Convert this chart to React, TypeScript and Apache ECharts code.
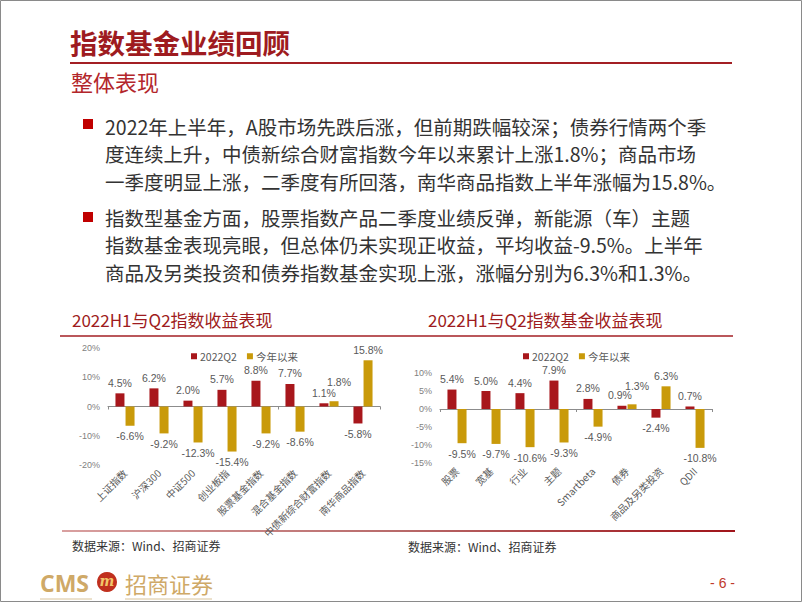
import React, { useEffect, useRef } from "react";
import * as echarts from "echarts";

const seriesNames = ["2022Q2", "今年以来"];

const leftCategories = ["上证指数", "沪深300", "中证500", "创业板指", "股票基金指数", "混合基金指数", "中债新综合财富指数", "南华商品指数"];
const leftQ2 = [4.5, 6.2, 2.0, 5.7, 8.8, 7.7, 1.1, -5.8];
const leftYTD = [-6.6, -9.2, -12.3, -15.4, -9.2, -8.6, 1.8, 15.8];

const rightCategories = ["股票", "宽基", "行业", "主题", "Smartbeta", "债券", "商品及另类投资", "QDII"];
const rightQ2 = [5.4, 5.0, 4.4, 7.9, 2.8, 0.9, -2.4, 0.7];
const rightYTD = [-9.5, -9.7, -10.6, -9.3, -4.9, 1.3, 6.3, -10.8];

const pageTitle = "指数基金业绩回顾";
const pageSubtitle = "整体表现";
const bulletLines = [
  ["2022年上半年，A股市场先跌后涨，但前期跌幅较深；债券行情两个季", "度连续上升，中债新综合财富指数今年以来累计上涨1.8%；商品市场", "一季度明显上涨，二季度有所回落，南华商品指数上半年涨幅为15.8%。"],
  ["指数型基金方面，股票指数产品二季度业绩反弹，新能源（车）主题", "指数基金表现亮眼，但总体仍未实现正收益，平均收益-9.5%。上半年", "商品及另类投资和债券指数基金实现上涨，涨幅分别为6.3%和1.3%。"],
];
const chartTitles = ["2022H1与Q2指数收益表现", "2022H1与Q2指数基金收益表现"];
const sourceText = "数据来源：Wind、招商证券";

const RED = "#A8171C";
const GOLD = "#C99A0A";
const DARKRED = "#9E1B20";
const CJK = "'Noto Sans CJK SC', 'Noto Sans', sans-serif";

// label nudges (style only) for crowded small bars: [chart][series] -> {index: offset}
const labelNudges: Record<string, Record<number, number[]>> = {
  "0-1": { 6: [5, -9] },
  "1-0": { 5: [-2, 0] },
  "1-1": { 5: [5, -8] },
};

function barData(values: number[], key: string) {
  const nudges = labelNudges[key] || {};
  return values.map((v, i) => ({
    value: v,
    label: { position: v >= 0 ? "top" : "bottom", ...(nudges[i] ? { offset: nudges[i] } : {}) },
  }));
}

export default function App() {
  const ref = useRef<HTMLDivElement>(null);
  useEffect(() => {
    document.body.style.margin = "0";
    const chart = echarts.init(ref.current!, undefined, { renderer: "svg" });

    const grids = [
      { left: 108, top: 348, width: 272, height: 117 },
      { left: 440, top: 373, width: 272, height: 90 },
    ];
    const yAxes = [
      { min: -20, max: 20, interval: 10 },
      { min: -15, max: 10, interval: 5 },
    ];
    const cats = [leftCategories, rightCategories];
    const q2 = [leftQ2, rightQ2];
    const ytd = [leftYTD, rightYTD];

    const xAxis: any[] = [];
    const yAxis: any[] = [];
    const series: any[] = [];
    const legends: any[] = [];
    [0, 1].forEach((i) => {
      xAxis.push({
        type: "category",
        gridIndex: i,
        data: cats[i],
        position: "bottom",
        axisLine: { show: false, onZero: false },
        axisTick: { show: false },
        axisLabel: { rotate: 45, interval: 0, fontSize: 10, color: "#595959", fontFamily: CJK, margin: 6 },
      });
      xAxis.push({
        type: "category",
        gridIndex: i,
        data: cats[i],
        position: "top",
        axisLine: { show: true, onZero: true, lineStyle: { color: "#8c8c8c", width: 1 } },
        axisTick: { show: true, inside: true, length: 3, lineStyle: { color: "#8c8c8c" } },
        axisLabel: { show: false },
      });
      yAxis.push({
        type: "value",
        gridIndex: i,
        ...yAxes[i],
        axisLine: { show: false },
        axisTick: { show: false },
        splitLine: { show: false },
        axisLabel: { formatter: "{value}%", fontSize: 9, color: "#7f7f7f", fontFamily: "'Liberation Sans', sans-serif", margin: 8 },
      });
      const labelCfg = {
        show: true,
        formatter: (p: any) => Number(p.value).toFixed(1) + "%",
        fontSize: 10.5,
        color: "#595959",
        distance: 5,
        fontFamily: "'Liberation Sans', sans-serif",
      };
      series.push({
        name: seriesNames[0],
        type: "bar",
        xAxisIndex: i * 2,
        yAxisIndex: i,
        data: barData(q2[i], i + "-0"),
        barWidth: 9,
        barGap: "12%",
        itemStyle: { color: RED },
        label: labelCfg,
      });
      series.push({
        name: seriesNames[1],
        type: "bar",
        xAxisIndex: i * 2,
        yAxisIndex: i,
        data: barData(ytd[i], i + "-1"),
        barWidth: 9,
        barGap: "12%",
        itemStyle: { color: GOLD },
        label: labelCfg,
      });
      legends.push({
        data: seriesNames,
        left: i === 0 ? 186 : 518,
        top: 346,
        itemWidth: 6,
        itemHeight: 6,
        itemGap: 10,
        icon: "rect",
        textStyle: { fontSize: 10.5, color: "#595959", fontFamily: CJK, padding: [0, 0, 0, -2] },
      });
    });

    const graphic: any[] = [
      { type: "rect", shape: { x: 0.5, y: 0.5, width: 801, height: 601 }, style: { fill: "none", stroke: "#8a8a8a", lineWidth: 1 } },
      { type: "text", x: 70, y: 42, style: { text: pageTitle, fill: DARKRED, fontSize: 27.5, fontWeight: "bold", fontFamily: CJK, verticalAlign: "middle" } },
      { type: "line", shape: { x1: 70, y1: 63, x2: 732, y2: 63 }, style: { stroke: "#A31F24", lineWidth: 2 } },
      { type: "text", x: 71, y: 81, style: { text: pageSubtitle, fill: "#B3262B", fontSize: 22, fontFamily: CJK, verticalAlign: "middle" } },
    ];
    const lineYs = [[126, 153, 181], [217, 244, 272]];
    const squareYs = [119, 212];
    bulletLines.forEach((lines, b) => {
      graphic.push({ type: "rect", shape: { x: 83, y: squareYs[b], width: 10, height: 10 }, style: { fill: "#C00000" } });
      lines.forEach((t, j) => {
        graphic.push({ type: "text", x: 105, y: lineYs[b][j], style: { text: t, fill: "#333333", fontSize: 19.5, fontFamily: CJK, verticalAlign: "middle" } });
      });
    });
    graphic.push(
      { type: "text", x: 72, y: 319, style: { text: chartTitles[0], fill: DARKRED, fontSize: 17, fontFamily: CJK, verticalAlign: "middle" } },
      { type: "text", x: 428, y: 319, style: { text: chartTitles[1], fill: DARKRED, fontSize: 17, fontFamily: CJK, verticalAlign: "middle" } },
      { type: "line", shape: { x1: 60, y1: 336, x2: 733, y2: 336 }, style: { stroke: "#A31F24", lineWidth: 1.5 } },
      {
        type: "rect",
        shape: { x: 62, y: 530, width: 673, height: 2 },
        style: {
          fill: new echarts.graphic.LinearGradient(0, 0, 1, 0, [
            { offset: 0, color: "#D9A0A0" },
            { offset: 0.5, color: "#B86A6A" },
            { offset: 1, color: "#A0141A" },
          ]),
        },
      },
      { type: "text", x: 72, y: 545, style: { text: sourceText, fill: "#333333", fontSize: 12, fontFamily: CJK, verticalAlign: "middle" } },
      { type: "text", x: 408, y: 546, style: { text: sourceText, fill: "#333333", fontSize: 12, fontFamily: CJK, verticalAlign: "middle" } },
      { type: "text", x: 40, y: 583, style: { text: "CMS", fill: "#CFA967", fontSize: 23, fontWeight: "bold", fontFamily: "'Open Sans', sans-serif", verticalAlign: "middle" } },
      { type: "circle", shape: { cx: 107, cy: 582, r: 10 }, style: { fill: "#C0301E" } },
      { type: "text", x: 107, y: 581, style: { text: "m", fill: "#F2C66A", fontSize: 14, fontWeight: "bold", fontStyle: "italic", fontFamily: "'DejaVu Serif', serif", align: "center", verticalAlign: "middle" } },
      { type: "text", x: 125, y: 583, style: { text: "招商证券", fill: "#CFA967", fontSize: 22, fontFamily: CJK, verticalAlign: "middle" } },
      { type: "line", shape: { x1: 40, y1: 599, x2: 92, y2: 599 }, style: { stroke: "#D8C39A", lineWidth: 1 } },
      { type: "line", shape: { x1: 125, y1: 599, x2: 212, y2: 599 }, style: { stroke: "#D8C39A", lineWidth: 1 } },
      { type: "text", x: 735, y: 583, style: { text: "- 6 -", fill: "#C0392B", fontSize: 14, fontFamily: "'Liberation Sans', sans-serif", align: "right", verticalAlign: "middle" } }
    );

    chart.setOption({
      animation: false,
      backgroundColor: "#ffffff",
      grid: grids,
      xAxis,
      yAxis,
      series,
      legend: legends,
      graphic,
    });
    return () => chart.dispose();
  }, []);
  return <div ref={ref} style={{ width: 802, height: 602, position: "absolute", left: 0, top: 0 }} />;
}
